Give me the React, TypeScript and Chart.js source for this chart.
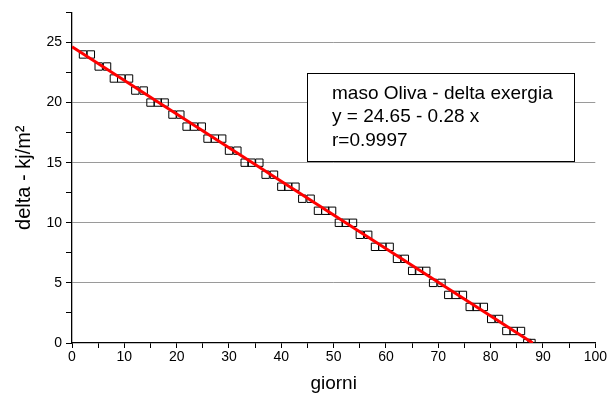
import React, { useEffect, useRef } from "react";
import { Chart, registerables } from "chart.js";

Chart.register(...registerables);

// measured days (x) and delta exergy values (y)
const days = [
  2.1, 3.6,
  5.1, 6.7,
  8.0, 9.4, 10.9,
  12.1, 13.7,
  15.0, 16.4, 17.7,
  19.2, 20.7,
  21.9, 23.3, 24.8,
  25.9, 27.3, 28.7,
  30.0, 31.6,
  33.0, 34.3, 35.8,
  37.0, 38.6,
  40.0, 41.3, 42.7,
  44.0, 45.6,
  47.0, 48.4, 49.7,
  51.0, 52.3, 53.7,
  55.0, 56.6,
  57.9, 59.3, 60.7,
  62.1, 63.6,
  65.0, 66.3, 67.7,
  69.0, 70.6,
  71.9, 73.3, 74.7,
  76.0, 77.3, 78.7,
  80.1, 81.6,
  83.0, 84.4, 85.8,
  87.0, 87.8,
];
const delta = [
  24, 24,
  23, 23,
  22, 22, 22,
  21, 21,
  20, 20, 20,
  19, 19,
  18, 18, 18,
  17, 17, 17,
  16, 16,
  15, 15, 15,
  14, 14,
  13, 13, 13,
  12, 12,
  11, 11, 11,
  10, 10, 10,
  9, 9,
  8, 8, 8,
  7, 7,
  6, 6, 6,
  5, 5,
  4, 4, 4,
  3, 3, 3,
  2, 2,
  1, 1, 1,
  0, 0,
];

// linear fit y = 24.65 - 0.28 x, drawn between its end points
const fitX = [0, 88.04];
const fitY = [24.65, 0];

const legendLines = ["maso Oliva - delta exergia", "y = 24.65 - 0.28 x", "r=0.9997"];

const xTitle = "giorni";
const yTitle = "delta - kj/m²";

const FONT = "'Liberation Sans', Arial, sans-serif";

export default function App() {
  const ref = useRef<HTMLCanvasElement | null>(null);

  useEffect(() => {
    const canvas = ref.current;
    if (!canvas) return;

    const legendPlugin = {
      id: "fitBox",
      afterDatasetsDraw(chart: any) {
        const { ctx, chartArea } = chart;
        const x0 = chartArea.left + 235;
        const y0 = chartArea.top + 61;
        const w = 267;
        const h = 88;
        ctx.save();
        ctx.fillStyle = "#ffffff";
        ctx.fillRect(x0, y0, w, h);
        ctx.strokeStyle = "#000000";
        ctx.lineWidth = 1;
        ctx.strokeRect(Math.round(x0) + 0.5, Math.round(y0) + 0.5, w, h);
        ctx.fillStyle = "#000000";
        ctx.font = `19px ${FONT}`;
        ctx.textBaseline = "middle";
        ctx.textAlign = "left";
        legendLines.forEach((t, i) => {
          ctx.fillText(t, x0 + 25, y0 + 20 + i * 23.7);
        });
        ctx.restore();
      },
    };

    const chart = new Chart(canvas, {
      type: "scatter",
      data: {
        datasets: [
          {
            type: "line",
            label: "fit",
            data: fitX.map((x, i) => ({ x, y: fitY[i] })),
            borderColor: "#ff0000",
            borderWidth: 3,
            pointRadius: 0,
            fill: false,
            order: 0,
          } as any,
          {
            label: "data",
            data: days.map((x, i) => ({ x, y: delta[i] })),
            pointStyle: "rect",
            pointRadius: 5.2,
            borderColor: "#000000",
            backgroundColor: "rgba(255,255,255,0)",
            borderWidth: 1,
            order: 1,
          },
        ],
      },
      options: {
        animation: false,
        responsive: false,
        devicePixelRatio: 1,
        layout: { padding: { left: 0, right: 11, top: 12, bottom: 0 } },
        plugins: {
          legend: { display: false },
          tooltip: { enabled: false },
        },
        scales: {
          x: {
            type: "linear",
            min: 0,
            max: 100,
            afterFit(scale: any) {
              scale.height = 52;
            },
            ticks: {
              stepSize: 5,
              autoSkip: false,
              maxRotation: 0,
              padding: 1,
              color: "#000",
              font: { family: FONT, size: 14 },
              callback: (v: any) => (Number(v) % 10 === 0 ? String(v) : ""),
            },
            grid: {
              drawOnChartArea: false,
              tickLength: 5,
              tickColor: "#000",
              lineWidth: 1,
            },
            border: { display: true, color: "#000", width: 1.3 },
            title: {
              display: true,
              text: xTitle,
              color: "#000",
              font: { family: FONT, size: 19 },
              padding: { top: 4, bottom: 0 },
            },
          },
          y: {
            type: "linear",
            min: 0,
            max: 27.5,
            afterFit(scale: any) {
              scale.width = 72;
            },
            ticks: {
              stepSize: 2.5,
              autoSkip: false,
              padding: 4,
              color: "#000",
              font: { family: FONT, size: 14 },
              callback: (v: any) => (Number(v) % 5 === 0 ? String(v) : ""),
            },
            grid: {
              tickLength: 6,
              tickColor: "#000",
              lineWidth: 1,
              color: (c: any) => {
                const v = c.tick ? c.tick.value : 0;
                return v > 0 && v % 5 === 0 && v < 27 ? "#9a9a9a" : "rgba(0,0,0,0)";
              },
            },
            border: { display: true, color: "#000", width: 1.3 },
            title: {
              display: true,
              text: yTitle,
              color: "#000",
              font: { family: FONT, size: 20 },
              padding: { top: 12, bottom: 0 },
            },
          },
        },
      },
      plugins: [legendPlugin],
    } as any);

    return () => chart.destroy();
  }, []);

  return (
    <div style={{ position: "absolute", left: 0, top: 0, width: 608, height: 395, background: "#fff" }}>
      <canvas ref={ref} width={608} height={395} style={{ width: 608, height: 395, display: "block" }} />
    </div>
  );
}
